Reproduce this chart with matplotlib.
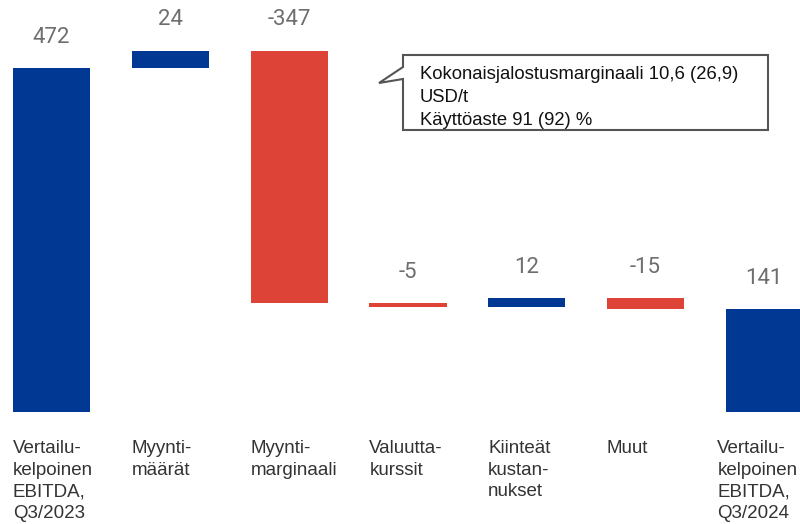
import matplotlib.pyplot as plt
from matplotlib.patches import Polygon

categories = ['Vertailu-\nkelpoinen\nEBITDA,\nQ3/2023', 'Myynti-\nmäärät', 'Myynti-\nmarginaali',
              'Valuutta-\nkurssit', 'Kiinteät\nkustan-\nnukset', 'Muut', 'Vertailu-\nkelpoinen\nEBITDA,\nQ3/2024']
values = [472, 24, -347, -5, 12, -15, 141]
is_total = [True, False, False, False, False, False, True]
note = 'Kokonaisjalostusmarginaali 10,6 (26,9)\nUSD/t\nKäyttöaste 91 (92) %'

blue = '#003893'
red = '#DD4437'
width = 0.65

fig = plt.figure(figsize=(8, 5.24), dpi=100)
ax = fig.add_axes([0, 0, 1, 1])

running = 0
for i, (v, tot) in enumerate(zip(values, is_total)):
    if tot:
        bottom, h = 0, v
        running = v
    else:
        bottom = running if v >= 0 else running + v
        h = abs(v)
        running += v
    ax.bar(i, h, bottom=bottom, width=width, color=blue if (tot or v >= 0) else red)
    ax.annotate(str(v), (i, bottom + h), xytext=(0, 22), textcoords='offset points',
                ha='center', va='center', fontsize=16, color='#6e6e6e', family='Roboto')
    # last label is nudged left so it stays inside the figure
    dx = -6 if i == len(values) - 1 else 0
    ax.annotate(categories[i], (i - width / 2, 0), xytext=(dx, -20), textcoords='offset points',
                ha='left', va='top', fontsize=13.5, color='#333333', family='Liberation Sans',
                linespacing=1.37)

ax.set_xlim(-0.4335, 6.30)
ax.set_ylim(-153.7, 565.3)
ax.axis('off')

# callout box
W, H = 800, 524
pts = [(403, 55), (768, 55), (768, 130), (403, 130), (403, 79), (379, 83), (403, 67)]
poly = Polygon([(x / W, 1 - y / H) for x, y in pts], closed=True, transform=fig.transFigure,
               facecolor='white', edgecolor='#555555', linewidth=1.5)
fig.patches.append(poly)
fig.text(420 / W, 1 - 66 / H, note, ha='left', va='top', fontsize=13.3, color='#111111',
         family='Liberation Sans', linespacing=1.45)

fig.savefig('out.png', dpi=100)
